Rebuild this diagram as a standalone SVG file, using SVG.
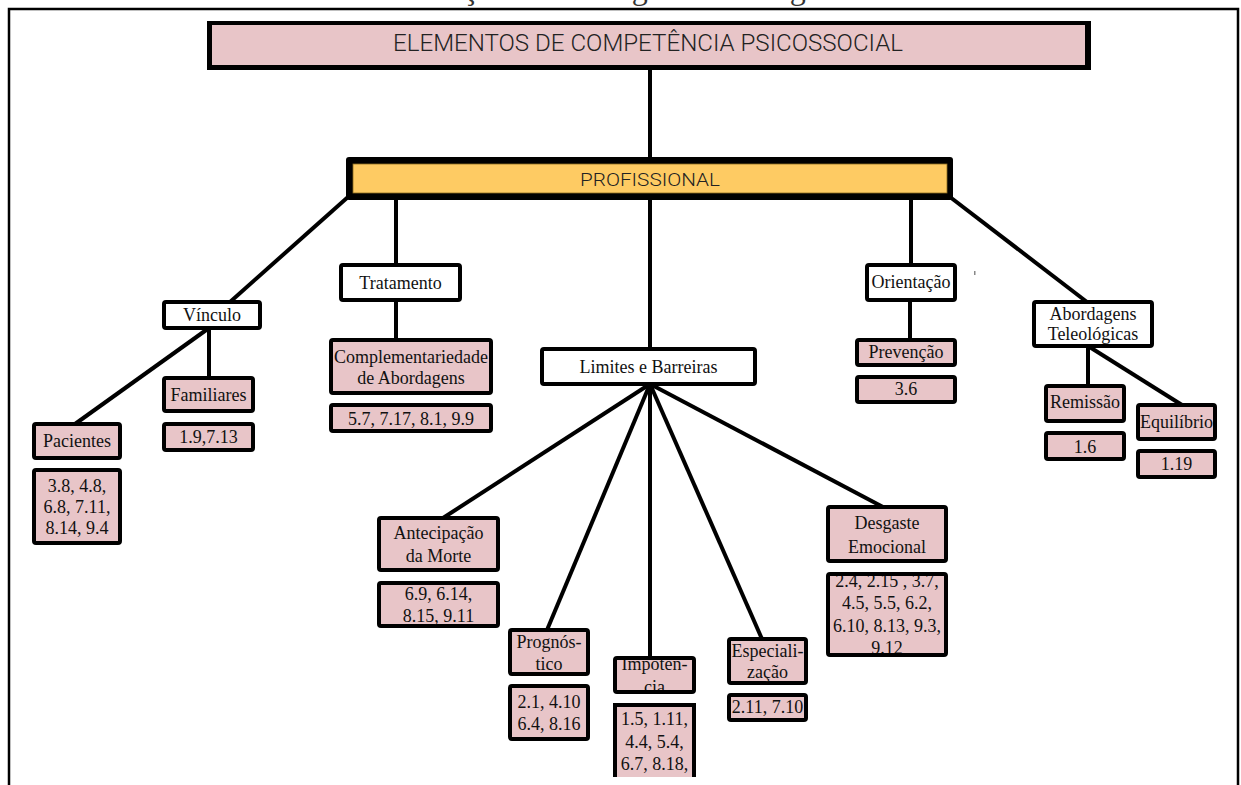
<svg xmlns="http://www.w3.org/2000/svg" width="1241" height="785" viewBox="0 0 1241 785">
<style>
.w{fill:#fff;stroke:#000;stroke-width:4}
.p{fill:#E8C5C8;stroke:#000;stroke-width:4}
.pf{fill:#E8C5C8}
.t{font-family:"Liberation Serif","Times New Roman",serif;font-size:18px;fill:#111;text-anchor:middle}
.c{stroke:#000;stroke-width:4;fill:none}
.h{font-family:Roboto,"Liberation Sans",sans-serif;font-weight:300;fill:#222;text-anchor:middle}
</style>
<defs>
<clipPath id="clipImp"><rect x="615" y="658" width="79" height="34"/></clipPath>
<clipPath id="clipDes"><rect x="828" y="574" width="118" height="81"/></clipPath>
</defs>
<rect width="1241" height="785" fill="#fff"/>
<text x="367" y="-1" font-family="Liberation Serif, serif" font-size="32" fill="#333">Orientação e Abordagem Teleológica</text>
<path d="M9,785 V9 H1238 V785" fill="none" stroke="#000" stroke-width="2.5"/>
<rect x="974" y="271" width="1.5" height="4" fill="#888"/>

<g id="connectors">
<path class="c" d="M650,70 V158"/>
<path class="c" d="M348,197 L230,302"/>
<path class="c" d="M396,199 V265"/>
<path class="c" d="M650,199 V349"/>
<path class="c" d="M911,199 V265"/>
<path class="c" d="M950,197 L1087,302"/>
<path class="c" d="M209,328 V378"/>
<path class="c" d="M209,328 L75,424"/>
<path class="c" d="M396,300 V340"/>
<path class="c" d="M910,300 V340"/>
<path class="c" d="M1088,346 V386"/>
<path class="c" d="M1088,346 L1182,405"/>
<path class="c" d="M650,384 L443,518"/>
<path class="c" d="M650,384 L547,630"/>
<path class="c" d="M650,384 V658"/>
<path class="c" d="M650,384 L762,639"/>
<path class="c" d="M650,384 L883,507"/>
</g>

<g id="n-elementos">
<rect x="207" y="21" width="884" height="49" fill="#000"/>
<rect x="212" y="25" width="873" height="40" fill="#E8C5C8"/>
<text class="h" x="648" y="51" font-size="23" textLength="510" lengthAdjust="spacingAndGlyphs">ELEMENTOS DE COMPETÊNCIA PSICOSSOCIAL</text>
</g>

<g id="n-profissional">
<rect x="346" y="157" width="607" height="43" rx="3" fill="#000"/>
<rect x="353" y="164" width="594" height="29" fill="#FECB63" stroke="#8a6a20" stroke-width="0.8"/>
<text class="h" x="650" y="186" font-size="19" textLength="140" lengthAdjust="spacingAndGlyphs">PROFISSIONAL</text>
</g>

<g id="n-vinculo"><rect class="w" x="164" y="302" width="96" height="26" rx="2"/><text class="t" x="212" y="321">Vínculo</text></g>
<g id="n-familiares"><rect class="p" x="164" y="378" width="89" height="33" rx="2"/><text class="t" x="208.5" y="401">Familiares</text></g>
<g id="n-familiares-ref"><rect class="p" x="164" y="424" width="89" height="26" rx="2"/><text class="t" x="208.5" y="443">1.9,7.13</text></g>
<g id="n-pacientes"><rect class="p" x="34" y="424" width="86" height="34" rx="2"/><text class="t" x="77" y="447">Pacientes</text></g>
<g id="n-pacientes-ref"><rect class="p" x="34" y="470" width="86" height="73" rx="2"/><text class="t" x="77" y="492">3.8, 4.8,</text><text class="t" x="77" y="513">6.8, 7.11,</text><text class="t" x="77" y="534">8.14, 9.4</text></g>

<g id="n-tratamento"><rect class="w" x="341" y="265" width="119" height="35" rx="2"/><text class="t" x="400.5" y="289">Tratamento</text></g>
<g id="n-complementariedade"><rect class="p" x="331" y="340" width="160" height="53" rx="2"/><text class="t" x="411" y="363">Complementariedade</text><text class="t" x="411" y="384">de Abordagens</text></g>
<g id="n-complementariedade-ref"><rect class="p" x="331" y="405" width="160" height="26" rx="2"/><text class="t" x="411" y="425">5.7, 7.17, 8.1, 9.9</text></g>

<g id="n-limites"><rect class="w" x="542" y="349" width="213" height="35" rx="2"/><text class="t" x="648.5" y="373">Limites e Barreiras</text></g>
<g id="n-antecipacao"><rect class="p" x="379" y="518" width="119" height="52" rx="2"/><text class="t" x="438.5" y="539">Antecipação</text><text class="t" x="438.5" y="562">da Morte</text></g>
<g id="n-antecipacao-ref"><rect class="p" x="379" y="583" width="119" height="43" rx="2"/><text class="t" x="438.5" y="600">6.9, 6.14,</text><text class="t" x="438.5" y="622">8.15, 9.11</text></g>
<g id="n-prognostico"><rect class="p" x="510" y="630" width="78" height="44" rx="2"/><text class="t" x="549" y="648">Prognós-</text><text class="t" x="549" y="670">tico</text></g>
<g id="n-prognostico-ref"><rect class="p" x="510" y="686" width="78" height="53" rx="2"/><text class="t" x="549" y="708">2.1, 4.10</text><text class="t" x="549" y="730">6.4, 8.16</text></g>
<g id="n-impotencia"><rect class="pf" x="615" y="658" width="79" height="34"/><g clip-path="url(#clipImp)"><text class="t" x="654.5" y="670">Impotên-</text><text class="t" x="654.5" y="693">cia</text></g><rect x="615" y="658" width="79" height="34" rx="2" fill="none" stroke="#000" stroke-width="4"/></g>
<g id="n-impotencia-ref"><rect class="pf" x="615" y="705" width="79" height="72"/><path d="M615,777 V705 H694 V777" fill="none" stroke="#000" stroke-width="4"/><text class="t" x="654.5" y="725">1.5, 1.11,</text><text class="t" x="654.5" y="748">4.4, 5.4,</text><text class="t" x="654.5" y="770">6.7, 8.18,</text></g>
<g id="n-especializacao"><rect class="p" x="729" y="639" width="77" height="44" rx="2"/><text class="t" x="767.5" y="657">Especiali-</text><text class="t" x="767.5" y="678">zação</text></g>
<g id="n-especializacao-ref"><rect class="p" x="729" y="695" width="77" height="25" rx="2"/><text class="t" x="767.5" y="713">2.11, 7.10</text></g>
<g id="n-desgaste"><rect class="p" x="828" y="507" width="118" height="54" rx="2"/><text class="t" x="887" y="529">Desgaste</text><text class="t" x="887" y="553">Emocional</text></g>
<g id="n-desgaste-ref"><rect class="pf" x="828" y="574" width="118" height="81"/><g clip-path="url(#clipDes)"><text class="t" x="887" y="587">2.4, 2.15 , 3.7,</text><text class="t" x="887" y="609">4.5, 5.5, 6.2,</text><text class="t" x="887" y="632">6.10, 8.13, 9.3,</text><text class="t" x="887" y="654">9.12</text></g><rect x="828" y="574" width="118" height="81" rx="2" fill="none" stroke="#000" stroke-width="4"/></g>

<g id="n-orientacao"><rect class="w" x="867" y="265" width="88" height="35" rx="2"/><text class="t" x="911" y="288">Orientação</text></g>
<g id="n-prevencao"><rect class="p" x="857" y="340" width="98" height="25" rx="2"/><text class="t" x="906" y="358">Prevenção</text></g>
<g id="n-prevencao-ref"><rect class="p" x="857" y="377" width="98" height="25" rx="2"/><text class="t" x="906" y="395">3.6</text></g>
<g id="n-abordagens"><rect class="w" x="1034" y="302" width="118" height="44" rx="2"/><text class="t" x="1093" y="320">Abordagens</text><text class="t" x="1093" y="340">Teleológicas</text></g>
<g id="n-remissao"><rect class="p" x="1046" y="386" width="78" height="35" rx="2"/><text class="t" x="1085" y="408">Remissão</text></g>
<g id="n-remissao-ref"><rect class="p" x="1046" y="433" width="78" height="26" rx="2"/><text class="t" x="1085" y="453">1.6</text></g>
<g id="n-equilibrio"><rect class="p" x="1138" y="405" width="77" height="34" rx="2"/><text class="t" x="1176.5" y="428">Equilíbrio</text></g>
<g id="n-equilibrio-ref"><rect class="p" x="1138" y="451" width="77" height="26" rx="2"/><text class="t" x="1176.5" y="470">1.19</text></g>
</svg>
